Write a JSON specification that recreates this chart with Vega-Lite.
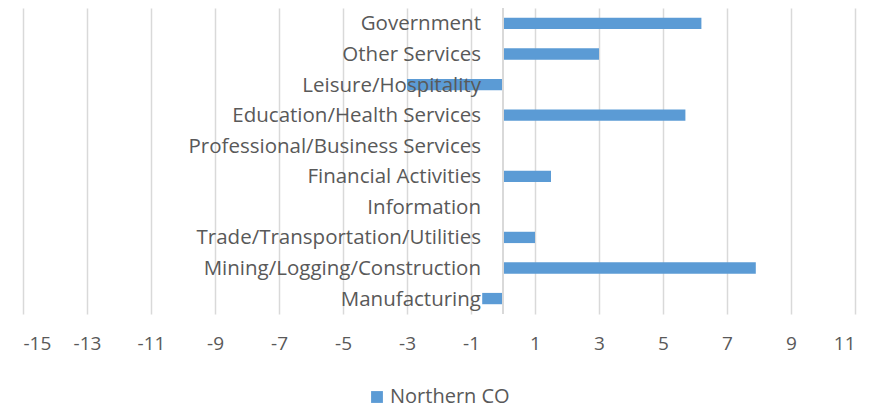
{
  "$schema": "https://vega.github.io/schema/vega-lite/v6.json",
  "autosize": "none",
  "width": 832,
  "height": 306,
  "padding": {"left": 23, "top": 8, "right": 25, "bottom": 96},
  "background": "white",
  "config": {"view": {"stroke": null}, "font": "Open Sans"},
  "data": {
    "values": [
      {"sector": "Government", "value": 6.2, "series": "Northern CO"},
      {"sector": "Other Services", "value": 3.0, "series": "Northern CO"},
      {"sector": "Leisure/Hospitality", "value": -3.0, "series": "Northern CO"},
      {"sector": "Education/Health Services", "value": 5.7, "series": "Northern CO"},
      {"sector": "Professional/Business Services", "value": null, "series": "Northern CO"},
      {"sector": "Financial Activities", "value": 1.5, "series": "Northern CO"},
      {"sector": "Information", "value": null, "series": "Northern CO"},
      {"sector": "Trade/Transportation/Utilities", "value": 1.0, "series": "Northern CO"},
      {"sector": "Mining/Logging/Construction", "value": 7.9, "series": "Northern CO"},
      {"sector": "Manufacturing", "value": -0.65, "series": "Northern CO"}
    ]
  },
  "encoding": {
    "y": {
      "field": "sector",
      "type": "nominal",
      "sort": ["Government", "Other Services", "Leisure/Hospitality", "Education/Health Services", "Professional/Business Services", "Financial Activities", "Information", "Trade/Transportation/Utilities", "Mining/Logging/Construction", "Manufacturing"],
      "axis": null,
      "scale": {"paddingInner": 0.63, "paddingOuter": 0.32}
    }
  },
  "layer": [
    {
      "mark": {"type": "bar", "color": "#5B9BD5"},
      "encoding": {
        "x": {
          "field": "value",
          "type": "quantitative",
          "scale": {"domain": [-15, 11], "nice": false, "zero": false},
          "axis": {
            "title": null,
            "values": [-15, -13, -11, -9, -7, -5, -3, -1, 1, 3, 5, 7, 9, 11],
            "labelExpr": "datum.value < 0 ? '-' + abs(datum.value) : '' + datum.value",
            "domain": false,
            "ticks": false,
            "grid": true,
            "gridColor": "#d9d9d9",
            "gridWidth": 1.5,
            "labelFontSize": 19,
            "labelColor": "#595959",
            "labelPadding": 20,
            "labelFont": "Open Sans"
          }
        },
        "color": {
          "field": "series",
          "type": "nominal",
          "scale": {"range": ["#5B9BD5"]},
          "legend": {
            "title": null,
            "orient": "none",
            "legendX": 344,
            "legendY": 379,
            "direction": "horizontal",
            "symbolType": "square",
            "symbolSize": 140,
            "symbolStrokeWidth": 0,
            "labelFontSize": 20,
            "labelOffset": 3,
            "labelColor": "#595959",
            "labelFont": "Open Sans"
          }
        }
      }
    },
    {
      "mark": {"type": "rule", "color": "#d9d9d9", "strokeWidth": 1.5},
      "encoding": {"x": {"datum": 0, "type": "quantitative"}, "y": null}
    },
    {
      "mark": {
        "type": "text",
        "align": "right",
        "baseline": "middle",
        "dx": -22,
        "dy": 1,
        "fontSize": 20.5,
        "color": "#595959",
        "font": "Open Sans"
      },
      "encoding": {
        "x": {"datum": 0, "type": "quantitative"},
        "text": {"field": "sector"}
      }
    }
  ]
}
